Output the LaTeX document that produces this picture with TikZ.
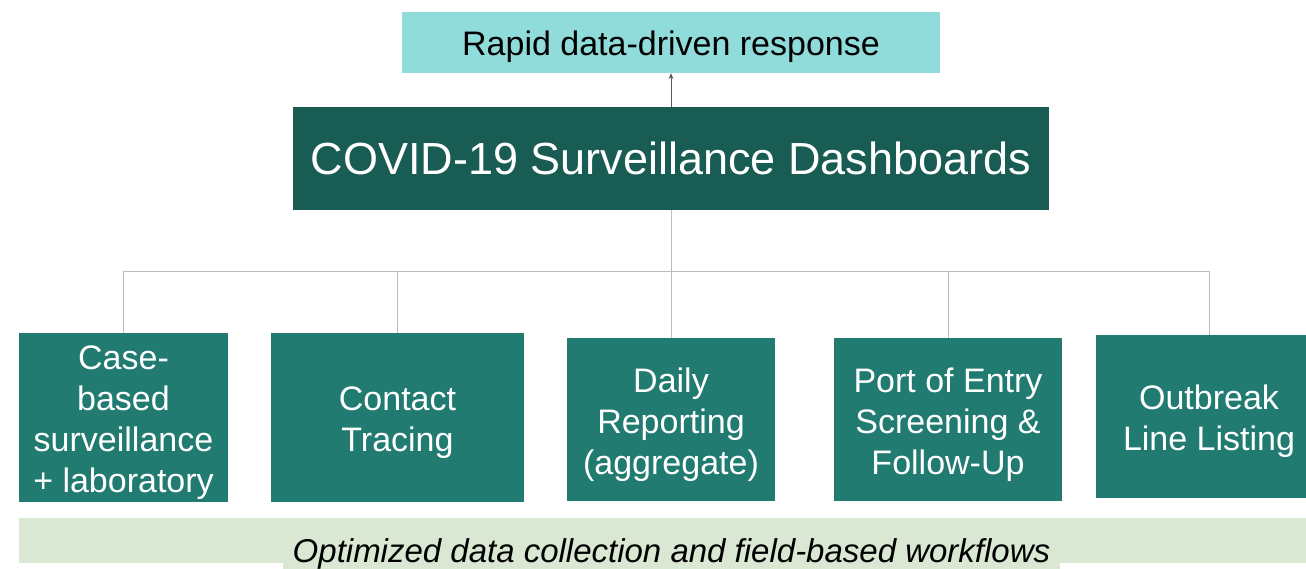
\documentclass[tikz,border=0pt]{standalone}
\usepackage{fontspec}
\setmainfont{Liberation Sans}
\usetikzlibrary{arrows.meta}
\definecolor{topcyan}{HTML}{8FDCDB}
\definecolor{mainteal}{HTML}{185C53}
\definecolor{childteal}{HTML}{217B71}
\definecolor{bandgreen}{HTML}{DAE8D3}
\definecolor{connGray}{HTML}{BDBDBD}
\tikzset{
  childbox/.style={fill=childteal, inner sep=0pt},
  childtext/.style={text=white, align=center, inner sep=0pt, yshift=-5pt,
    font=\fontsize{34}{41}\selectfont},
  conn/.style={draw=connGray, line width=1pt},
}
\begin{document}
\begin{tikzpicture}[x=1pt,y=-1pt]
\useasboundingbox (0,0) rectangle (1306,569);
% top box
\node[fill=topcyan, minimum width=538pt, minimum height=61pt, inner sep=0pt,
  label={[inner sep=0pt, yshift=-4pt, font=\fontsize{34}{40}\selectfont]center:Rapid data-driven response}] (resp) at (671,42.5) {};
% main box
\node[fill=mainteal, text=white, minimum width=756pt, minimum height=103pt, inner sep=0pt,
  font=\fontsize{45}{52}\selectfont] (dash) at (671,158.5) {\raisebox{-2pt}{COVID-19 Surveillance Dashboards}};
\draw[draw=black!65, line width=0.8pt, -{Stealth[length=6pt,width=5pt]}] (dash.north) -- (resp.south);
% children
\node[childbox, minimum width=209pt, minimum height=169pt,
  label={[childtext]center:{Case-\\based\\surveillance\\+ laboratory}}] (c1) at (123.5,417.5) {};
\node[childbox, minimum width=253pt, minimum height=169pt,
  label={[childtext]center:{Contact\\Tracing}}] (c2) at (397.5,417.5) {};
\node[childbox, minimum width=208pt, minimum height=163pt,
  label={[childtext]center:{Daily\\Reporting\\(aggregate)}}] (c3) at (671,419.5) {};
\node[childbox, minimum width=228pt, minimum height=163pt,
  label={[childtext]center:{Port of Entry\\Screening \&\\Follow-Up}}] (c4) at (948,419.5) {};
\node[childbox, minimum width=226pt, minimum height=163pt,
  label={[childtext]center:{Outbreak\\Line Listing}}] (c5) at (1209,416.5) {};
% connectors
\coordinate (hub) at (671,272);
\draw[conn] (dash.south) -- (hub);
\draw[conn] (c1.north) |- (hub);
\draw[conn] (c2.north) |- (hub);
\draw[conn] (c3.north) -- (hub);
\draw[conn] (c5.north) |- (hub);
\draw[conn] (c4.north) |- (hub);
% bottom band
\node[fill=bandgreen, minimum width=1287pt, minimum height=45pt, inner sep=0pt] (band) at (662.5,540.5) {};
\node[fill=bandgreen, minimum width=777pt, minimum height=31pt, inner sep=0pt,
  font=\fontsize{33}{38}\selectfont\itshape] (foot) at (671.5,553.5) {Optimized data collection and field-based workflows};
\end{tikzpicture}
\end{document}
